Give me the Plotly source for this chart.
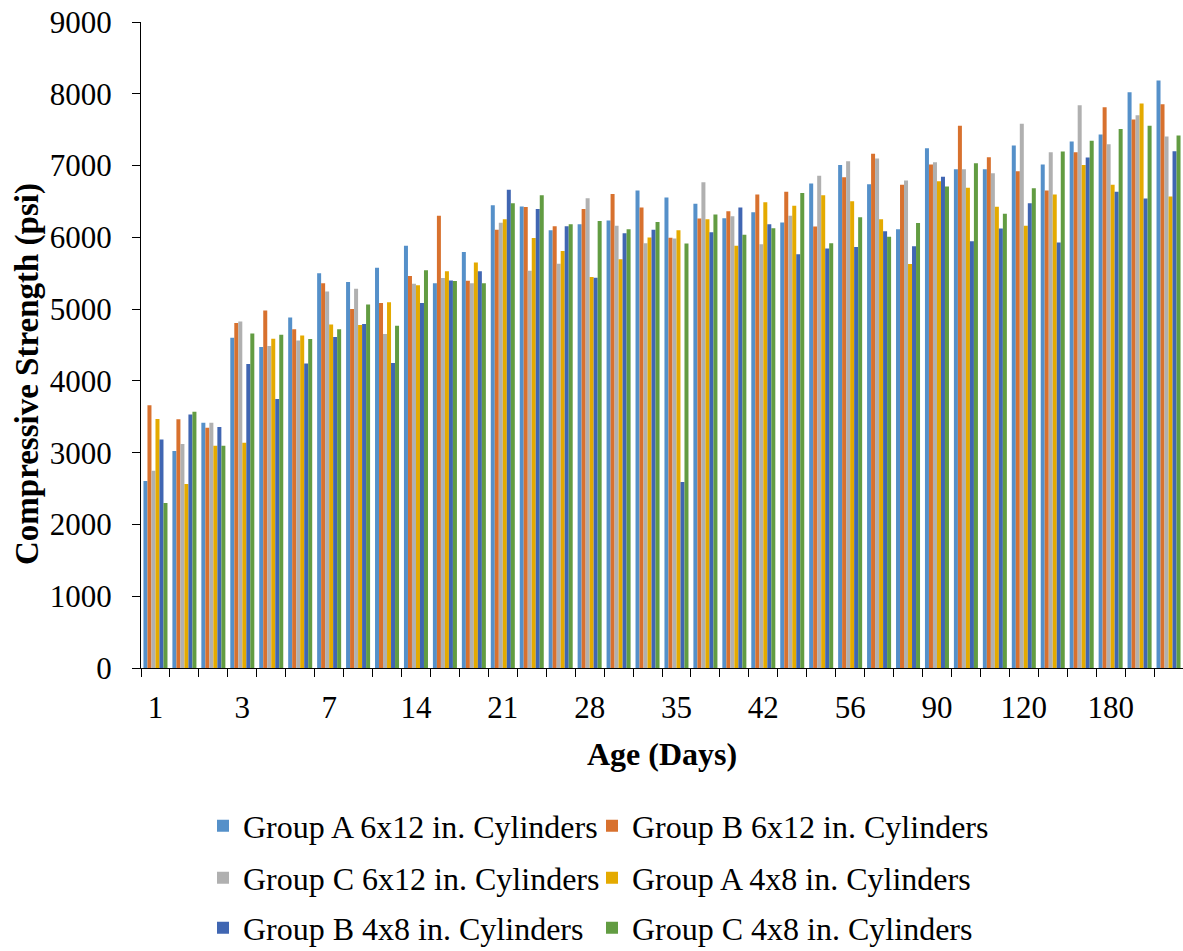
import plotly.graph_objects as go

ages = [1, 3, 7, 14, 21, 28, 35, 42, 56, 90, 120, 180]
replicates = 3

group_a_6x12 = [2604, 3022, 3417, 4601, 4471, 4884, 5501, 5376, 5575, 5882, 5362, 5794,
                6448, 6430, 6100, 6184, 6235, 6653, 6555, 6467, 6267, 6351, 6207, 6750,
                7006, 6741, 6114, 7242, 6950, 6950, 7280, 7015, 7336, 7433, 8022, 8185]
group_b_6x12 = [3659, 3464, 3347, 4805, 4981, 4721, 5362, 5000, 5084, 5460, 6300, 5394,
                6105, 6421, 6156, 6393, 6602, 6416, 5993, 6263, 6365, 6597, 6634, 6152,
                6838, 7163, 6732, 7015, 7553, 7117, 6922, 6653, 7187, 7813, 7642, 7855]
group_c_6x12 = [2748, 3120, 3417, 4828, 4485, 4564, 5246, 5283, 4652, 5353, 5432, 5362,
                6202, 5534, 5631, 6546, 6161, 5919, 5984, 6769, 6295, 5905, 6300, 6857,
                7061, 7099, 6792, 7047, 6950, 6894, 7581, 7187, 7841, 7298, 7702, 7405]
group_a_4x8 = [3468, 2563, 3096, 3138, 4587, 4633, 4787, 4777, 5097, 5334, 5529, 5650,
               6253, 5989, 5808, 5446, 5696, 5998, 6100, 6253, 5882, 6490, 6439, 6588,
               6504, 6253, 5627, 6783, 6690, 6425, 6161, 6597, 7006, 6732, 7865, 6570]
group_b_4x8 = [3185, 3533, 3357, 4234, 3747, 4243, 4610, 4791, 4248, 5084, 5399, 5529,
               6662, 6393, 6156, 5436, 6058, 6105, 2591, 6072, 6416, 6184, 5766, 5845,
               5864, 6086, 5877, 6843, 5947, 6124, 6476, 5929, 7113, 6634, 6542, 7201]
group_c_4x8 = [2298, 3570, 3096, 4661, 4643, 4582, 4721, 5065, 4768, 5543, 5390, 5362,
               6476, 6588, 6184, 6226, 6114, 6212, 5914, 6318, 6035, 6128, 6616, 5919,
               6281, 6007, 6198, 6709, 7033, 6328, 6685, 7196, 7344, 7511, 7553, 7419]

series_names = ["Group A 6x12 in. Cylinders", "Group B 6x12 in. Cylinders",
                "Group C 6x12 in. Cylinders", "Group A 4x8 in. Cylinders",
                "Group B 4x8 in. Cylinders", "Group C 4x8 in. Cylinders"]
series_values = [group_a_6x12, group_b_6x12, group_c_6x12,
                 group_a_4x8, group_b_4x8, group_c_4x8]
colors = ["#5590C9", "#D8712E", "#B0B0B0", "#E4AA00", "#4066B2", "#629C42"]

categories = [f"{a}-{r + 1}" for a in ages for r in range(replicates)]
tick_text = [str(a) if r == 0 else "" for a in ages for r in range(replicates)]

FONT = "Liberation Serif, Times New Roman, serif"
W, H = 1183, 951

# legend grid: 2 columns x 3 rows (one single-entry legend per series)
legend_col_x = [203, 592]
legend_row_y = [826, 878, 928]

fig = go.Figure()
legend_layouts = {}
for i, (name, vals, col) in enumerate(zip(series_names, series_values, colors)):
    lid = "legend" if i == 0 else f"legend{i + 1}"
    fig.add_trace(go.Bar(x=categories, y=vals, name=name, marker_color=col,
                         marker_line_width=0, legend=lid, showlegend=True))
    legend_layouts[lid] = dict(
        orientation="h", xref="container", yref="container",
        x=legend_col_x[i % 2] / W, y=1 - legend_row_y[i // 2] / H,
        xanchor="left", yanchor="middle",
        font=dict(family=FONT, size=32, color="black"),
        bgcolor="rgba(0,0,0,0)", itemclick=False, itemdoubleclick=False)

fig.update_layout(
    width=W, height=H, showlegend=True,
    paper_bgcolor="white", plot_bgcolor="white",
    margin=dict(l=141, r=0, t=22, b=283),
    barmode="group", bargap=0.17, bargroupgap=0,
    font=dict(family=FONT, size=31, color="black"),
    xaxis=dict(
        type="category", categoryorder="array", categoryarray=categories,
        tickmode="array", tickvals=categories, ticktext=tick_text,
        tickson="boundaries", ticks="outside", ticklen=8, tickwidth=1.3,
        tickcolor="black", showline=True, linecolor="black", linewidth=1.3,
        showgrid=False, tickangle=0, automargin=False, ticklabelstandoff=12,
        tickfont=dict(family=FONT, size=31, color="black"),
        title=dict(text="<b>Age (Days)</b>", standoff=18,
                   font=dict(family=FONT, size=32, color="black")),
    ),
    yaxis=dict(
        range=[0, 9000], dtick=1000, tick0=0, automargin=False,
        ticks="outside", ticklen=8, tickwidth=1.3, tickcolor="black",
        showline=True, linecolor="black", linewidth=1.3,
        showgrid=False, zeroline=False, ticklabelstandoff=14,
        tickfont=dict(family=FONT, size=31, color="black"),
    ),
    annotations=[dict(
        text="<b>Compressive Strength (psi)</b>", textangle=-90,
        xref="paper", yref="paper",
        x=(27 - 141) / (W - 141), y=(668 - 374) / (H - 22 - 283),
        xanchor="center", yanchor="middle", showarrow=False,
        font=dict(family=FONT, size=33, color="black"))],
)
fig.update_layout(**legend_layouts)

fig.write_html("out.html", config={"displayModeBar": False},
               post_script="document.body.style.margin='0';document.body.style.padding='0';")
